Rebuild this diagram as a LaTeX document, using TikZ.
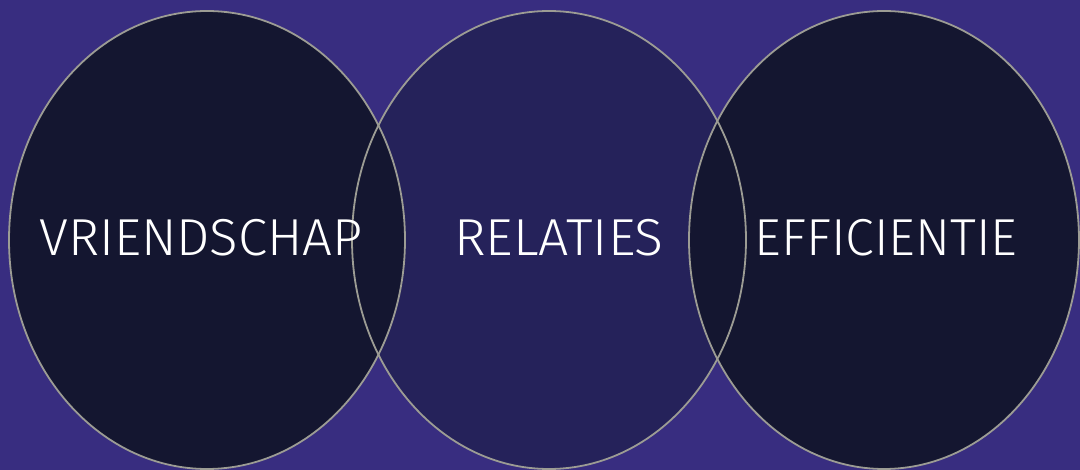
\documentclass[tikz,border=0pt]{standalone}
\usepackage{fontspec}
\setmainfont{Fira Sans}[UprightFont=* Light]
\definecolor{bgc}{HTML}{382D80}
\definecolor{darkc}{HTML}{141630}
\definecolor{midc}{HTML}{25225A}
\definecolor{linec}{HTML}{9C9C94}
\tikzset{
  ring/.style={draw=linec, line width=1.8pt},
  lbl/.style={text=white, font=\fontsize{52}{52}\selectfont, inner sep=0pt, anchor=base}
}
\begin{document}
\begin{tikzpicture}[x=1pt,y=-1pt]
\fill[bgc] (0,0) rectangle (1080,470);
\useasboundingbox (0,0) rectangle (1080,470);
\begin{scope}
\clip (0,0) rectangle (1080,470);
\fill[midc] (549,240) ellipse [x radius=197, y radius=229];
\fill[darkc] (207,240) ellipse [x radius=198, y radius=229];
\fill[darkc] (884,240) ellipse [x radius=195, y radius=229];
\draw[ring] (549,240) ellipse [x radius=197, y radius=229];
\draw[ring] (207,240) ellipse [x radius=198, y radius=229];
\draw[ring] (884,240) ellipse [x radius=195, y radius=229];
\end{scope}
\node[lbl] (v) at (201,256) {\scalebox{1.015}[1]{VRIENDSCHAP}};
\node[lbl] (r) at (559,256) {\scalebox{1.03}[1]{RELATIES}};
\node[lbl] (e) at (886,256) {\scalebox{1.0}[1]{EFFICIENTIE}};
\end{tikzpicture}
\end{document}
